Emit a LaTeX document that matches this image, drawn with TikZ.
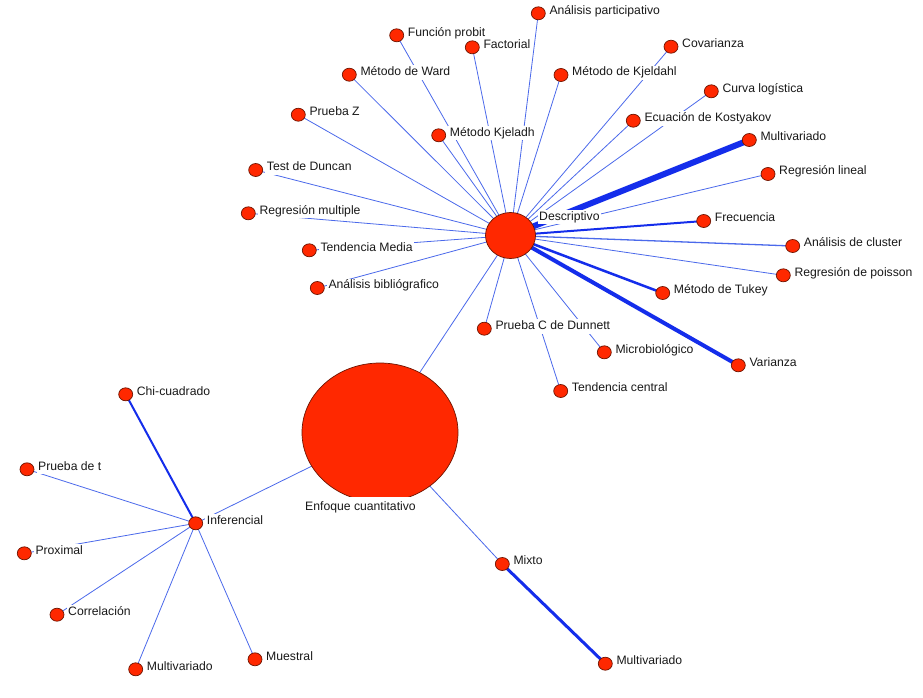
\documentclass[tikz,border=0pt]{standalone}
\usepackage{fontspec}
\setmainfont{Liberation Sans}
\usetikzlibrary{shapes.geometric,backgrounds}
\definecolor{nodefill}{RGB}{255,40,0}
\definecolor{nodeline}{RGB}{110,20,0}
\definecolor{thinedge}{RGB}{75,105,235}
\definecolor{thickedge}{RGB}{20,45,235}
\definecolor{txt}{RGB}{25,25,25}
\tikzset{
  dot/.style={ellipse, draw=nodeline, fill=nodefill, line width=0.7pt, minimum width=14pt, minimum height=13pt, inner sep=0pt},
  hub/.style={ellipse, draw=nodeline, fill=nodefill, line width=0.7pt, inner sep=0pt},
  lbl/.style={anchor=west, fill=white, inner sep=1.5pt, text height=8.6pt, text depth=2.5pt, font=\fontsize{12.2}{14}\selectfont, text=txt},
  lnk/.style={draw=thinedge, line width=0.8pt},
  lnkb/.style={draw=thickedge}
}
\newcommand\mkleaf[4]{\node[dot] (#1) at (#2,#3) {}; \node[lbl] (#1-l) at ([xshift=9.5pt,yshift=2.25pt]#1.center) {#4};}
\begin{document}
\begin{tikzpicture}[x=1pt,y=-1pt]
\useasboundingbox (0,0) rectangle (923,697);
\node[hub, minimum width=50pt, minimum height=46pt] (desc) at (510.5,235.5) {};
\node[hub, minimum width=156pt, minimum height=139pt] (enf) at (380,432.5) {};
\mkleaf{fp}{396.7}{35.3}{Función probit}
\mkleaf{fac}{472.3}{47.3}{Factorial}
\mkleaf{ap}{538.3}{13.3}{Análisis participativo}
\mkleaf{mw}{349.3}{74.7}{Método de Ward}
\mkleaf{pz}{298.3}{114.7}{Prueba Z}
\mkleaf{mkj}{438.7}{135.3}{Método Kjeladh}
\mkleaf{tdd}{255.7}{170}{Test de Duncan}
\mkleaf{mkd}{561}{75}{Método de Kjeldahl}
\mkleaf{cov}{671}{46.7}{Covarianza}
\mkleaf{cl}{711.3}{91.3}{Curva logística}
\mkleaf{ek}{633.3}{120.7}{Ecuación de Kostyakov}
\mkleaf{mva}{749.3}{140}{Multivariado}
\mkleaf{rl}{768}{174}{Regresión lineal}
\mkleaf{rm}{248.3}{213.3}{Regresión multiple}
\mkleaf{tm}{309.3}{250.3}{Tendencia Media}
\mkleaf{ab}{317.3}{288}{Análisis bibliógrafico}
\mkleaf{pcd}{484.3}{328.7}{Prueba C de Dunnett}
\mkleaf{tc}{560.7}{391}{Tendencia central}
\mkleaf{fre}{703.7}{221}{Frecuencia}
\mkleaf{ac}{792.7}{246}{Análisis de cluster}
\mkleaf{rp}{783.3}{275.3}{Regresión de poisson}
\mkleaf{mt}{662.7}{293}{Método de Tukey}
\mkleaf{mic}{604.3}{352.3}{Microbiológico}
\mkleaf{var}{738.3}{365.3}{Varianza}
\mkleaf{chi}{125.7}{394.3}{Chi-cuadrado}
\mkleaf{pt}{27}{469.3}{Prueba de t}
\mkleaf{inf}{195.7}{523.3}{Inferencial}
\mkleaf{prox}{24.3}{553.3}{Proximal}
\mkleaf{cor}{57}{614.7}{Correlación}
\mkleaf{mvb}{135.7}{669.3}{Multivariado}
\mkleaf{mue}{255}{659.3}{Muestral}
\mkleaf{mix}{502.3}{564}{Mixto}
\mkleaf{mvc}{605.3}{663.7}{Multivariado}
\node[lbl] (desc-l) at (537.5,217) {Descriptivo};
\node[lbl, inner ysep=4pt] (enf-l) at (303.5,507) {Enfoque cuantitativo};
\begin{scope}[on background layer]
\fill[white] (0,0) rectangle (923,697);
\foreach \n in {fp,fac,ap,mw,pz,mkj,tdd,mkd,cov,cl,ek,rl,rm,tm,ab,pcd,tc,rp,mic,enf}
  \draw[lnk] (desc.center) -- (\n.center);
\draw[lnk, line width=1.3pt] (desc.center) -- (ac.center);
\draw[lnkb, line width=6pt] (desc.center) -- (mva.center);
\draw[lnkb, line width=4pt] (desc.center) -- (var.center);
\draw[lnkb, line width=2.5pt] (desc.center) -- (mt.center);
\draw[lnkb, line width=2pt] (desc.center) -- (fre.center);
\draw[lnk] (enf.center) -- (inf.center);
\draw[lnk] (enf.center) -- (mix.center);
\foreach \n in {pt,prox,cor,mvb,mue}
  \draw[lnk] (inf.center) -- (\n.center);
\draw[lnkb, line width=2pt] (inf.center) -- (chi.center);
\draw[lnkb, line width=3pt] (mix.center) -- (mvc.center);
\end{scope}
\end{tikzpicture}
\end{document}
